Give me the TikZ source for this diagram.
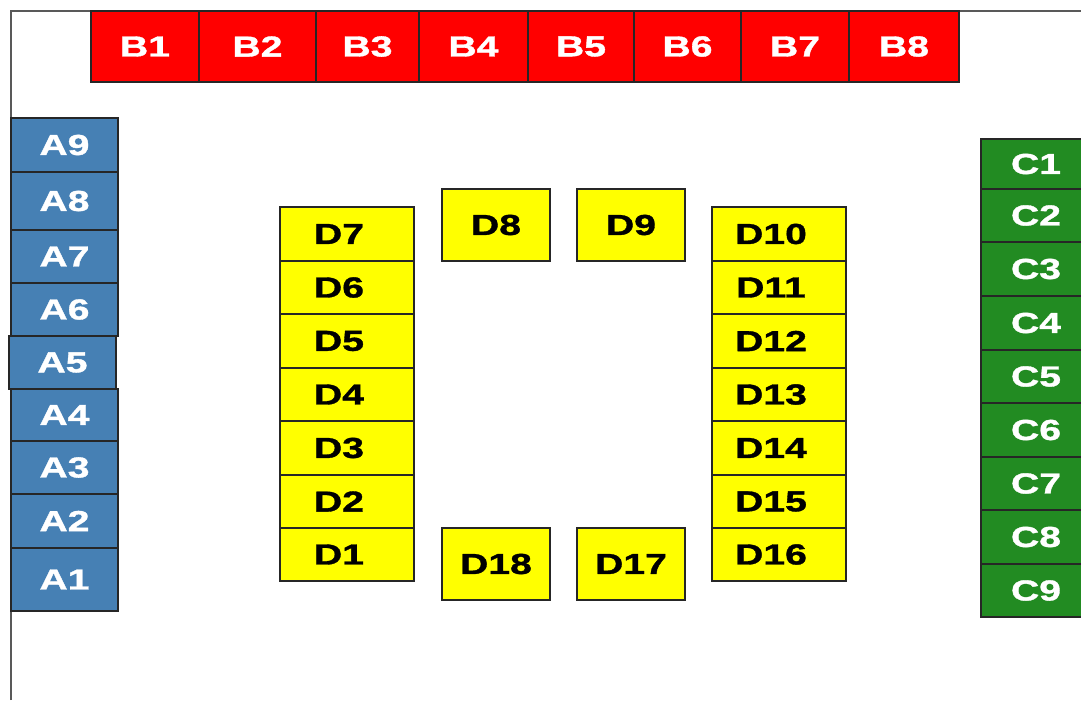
\documentclass[tikz,border=0pt]{standalone}
\usepackage{fontspec}
\usepackage{tikz}
\usetikzlibrary{positioning}
\newfontfamily\seatfont{Liberation Sans}[FakeStretch=1.35, FakeBold=1.2]
\definecolor{seatblue}{RGB}{70,128,180}
\definecolor{seatred}{RGB}{255,0,0}
\definecolor{seatgreen}{RGB}{34,139,34}
\definecolor{seatyellow}{RGB}{255,255,0}

\begin{document}
\begin{tikzpicture}[
        x=0.5pt, y=-0.5pt,
        seat/.style={draw=black!85, line width=0.7pt, rectangle, inner sep=0pt, outer sep=0pt,
            font=\seatfont\bfseries\fontsize{14.5}{14.5}\selectfont},
        aseat/.style={seat, fill=seatblue, text=white, minimum width=53.5pt},
        bseat/.style={seat, fill=seatred, text=white, minimum height=35.5pt},
        cseat/.style={seat, fill=seatgreen, text=white, minimum width=55pt},
        dseat/.style={seat, fill=seatyellow, text=black, minimum width=67pt,
            execute at begin node={\hspace*{-8pt}}},
        dbox/.style={seat, fill=seatyellow, text=black, minimum width=54pt, minimum height=36pt},
        wall/.style={draw=black!65, line width=1pt}
    ]
        \useasboundingbox (0,0) rectangle (1081,713);

        % Walls
        \draw[wall] (11,700) -- (11,11) -- (1081,11);

        % Row B
        \node[bseat, minimum width=54pt, anchor=north west] (b1) at (91,11) {B1};
        \node[bseat, minimum width=58.5pt, right=0pt of b1] (b2) {B2};
        \node[bseat, minimum width=51.5pt, right=0pt of b2] (b3) {B3};
        \node[bseat, minimum width=54.5pt, right=0pt of b3] (b4) {B4};
        \node[bseat, minimum width=53pt, right=0pt of b4] (b5) {B5};
        \node[bseat, minimum width=53.5pt, right=0pt of b5] (b6) {B6};
        \node[bseat, minimum width=54pt, right=0pt of b6] (b7) {B7};
        \node[bseat, minimum width=55pt, right=0pt of b7] (b8) {B8};

        % Column A
        \node[aseat, minimum height=27pt, anchor=north west] (a9) at (11,118) {A9};
        \node[aseat, minimum height=29pt, below=0pt of a9] (a8) {A8};
        \node[aseat, minimum height=26.5pt, below=0pt of a8] (a7) {A7};
        \node[aseat, minimum height=26.5pt, below=0pt of a7] (a6) {A6};
        \node[aseat, minimum height=26.5pt, below=0pt of a6, xshift=-1pt] (a5) {A5};
        \node[aseat, minimum height=26pt, below=0pt of a5, xshift=1pt] (a4) {A4};
        \node[aseat, minimum height=26.5pt, below=0pt of a4] (a3) {A3};
        \node[aseat, minimum height=27pt, below=0pt of a3] (a2) {A2};
        \node[aseat, minimum height=31.5pt, below=0pt of a2] (a1) {A1};

        % Column C
        \node[cseat, minimum height=25pt, anchor=north west] (c1) at (981,139) {C1};
        \node[cseat, minimum height=26.5pt, below=0pt of c1] (c2) {C2};
        \node[cseat, minimum height=27pt, below=0pt of c2] (c3) {C3};
        \node[cseat, minimum height=27pt, below=0pt of c3] (c4) {C4};
        \node[cseat, minimum height=26.5pt, below=0pt of c4] (c5) {C5};
        \node[cseat, minimum height=27pt, below=0pt of c5] (c6) {C6};
        \node[cseat, minimum height=26.5pt, below=0pt of c6] (c7) {C7};
        \node[cseat, minimum height=27pt, below=0pt of c7] (c8) {C8};
        \node[cseat, minimum height=26.5pt, below=0pt of c8] (c9) {C9};

        % Block D, left side
        \node[dseat, minimum height=27pt, anchor=north west] (d7) at (280,207) {D7};
        \node[dseat, minimum height=26.5pt, below=0pt of d7] (d6) {D6};
        \node[dseat, minimum height=27pt, below=0pt of d6] (d5) {D5};
        \node[dseat, minimum height=26.5pt, below=0pt of d5] (d4) {D4};
        \node[dseat, minimum height=27pt, below=0pt of d4] (d3) {D3};
        \node[dseat, minimum height=26.5pt, below=0pt of d3] (d2) {D2};
        \node[dseat, minimum height=26.5pt, below=0pt of d2] (d1) {D1};

        % Block D, right side
        \node[dseat, minimum height=27pt, anchor=north west] (d10) at (712,207) {D10};
        \node[dseat, minimum height=26.5pt, below=0pt of d10] (d11) {D11};
        \node[dseat, minimum height=27pt, below=0pt of d11] (d12) {D12};
        \node[dseat, minimum height=26.5pt, below=0pt of d12] (d13) {D13};
        \node[dseat, minimum height=27pt, below=0pt of d13] (d14) {D14};
        \node[dseat, minimum height=26.5pt, below=0pt of d14] (d15) {D15};
        \node[dseat, minimum height=26.5pt, below=0pt of d15] (d16) {D16};

        % Block D, ends
        \node[dbox, anchor=north west] (d8) at (442,189) {D8};
        \node[dbox, anchor=north west] (d9) at (577,189) {D9};
        \node[dbox, anchor=north west] (d18) at (442,528) {D18};
        \node[dbox, anchor=north west] (d17) at (577,528) {D17};
    \end{tikzpicture}
\end{document}
